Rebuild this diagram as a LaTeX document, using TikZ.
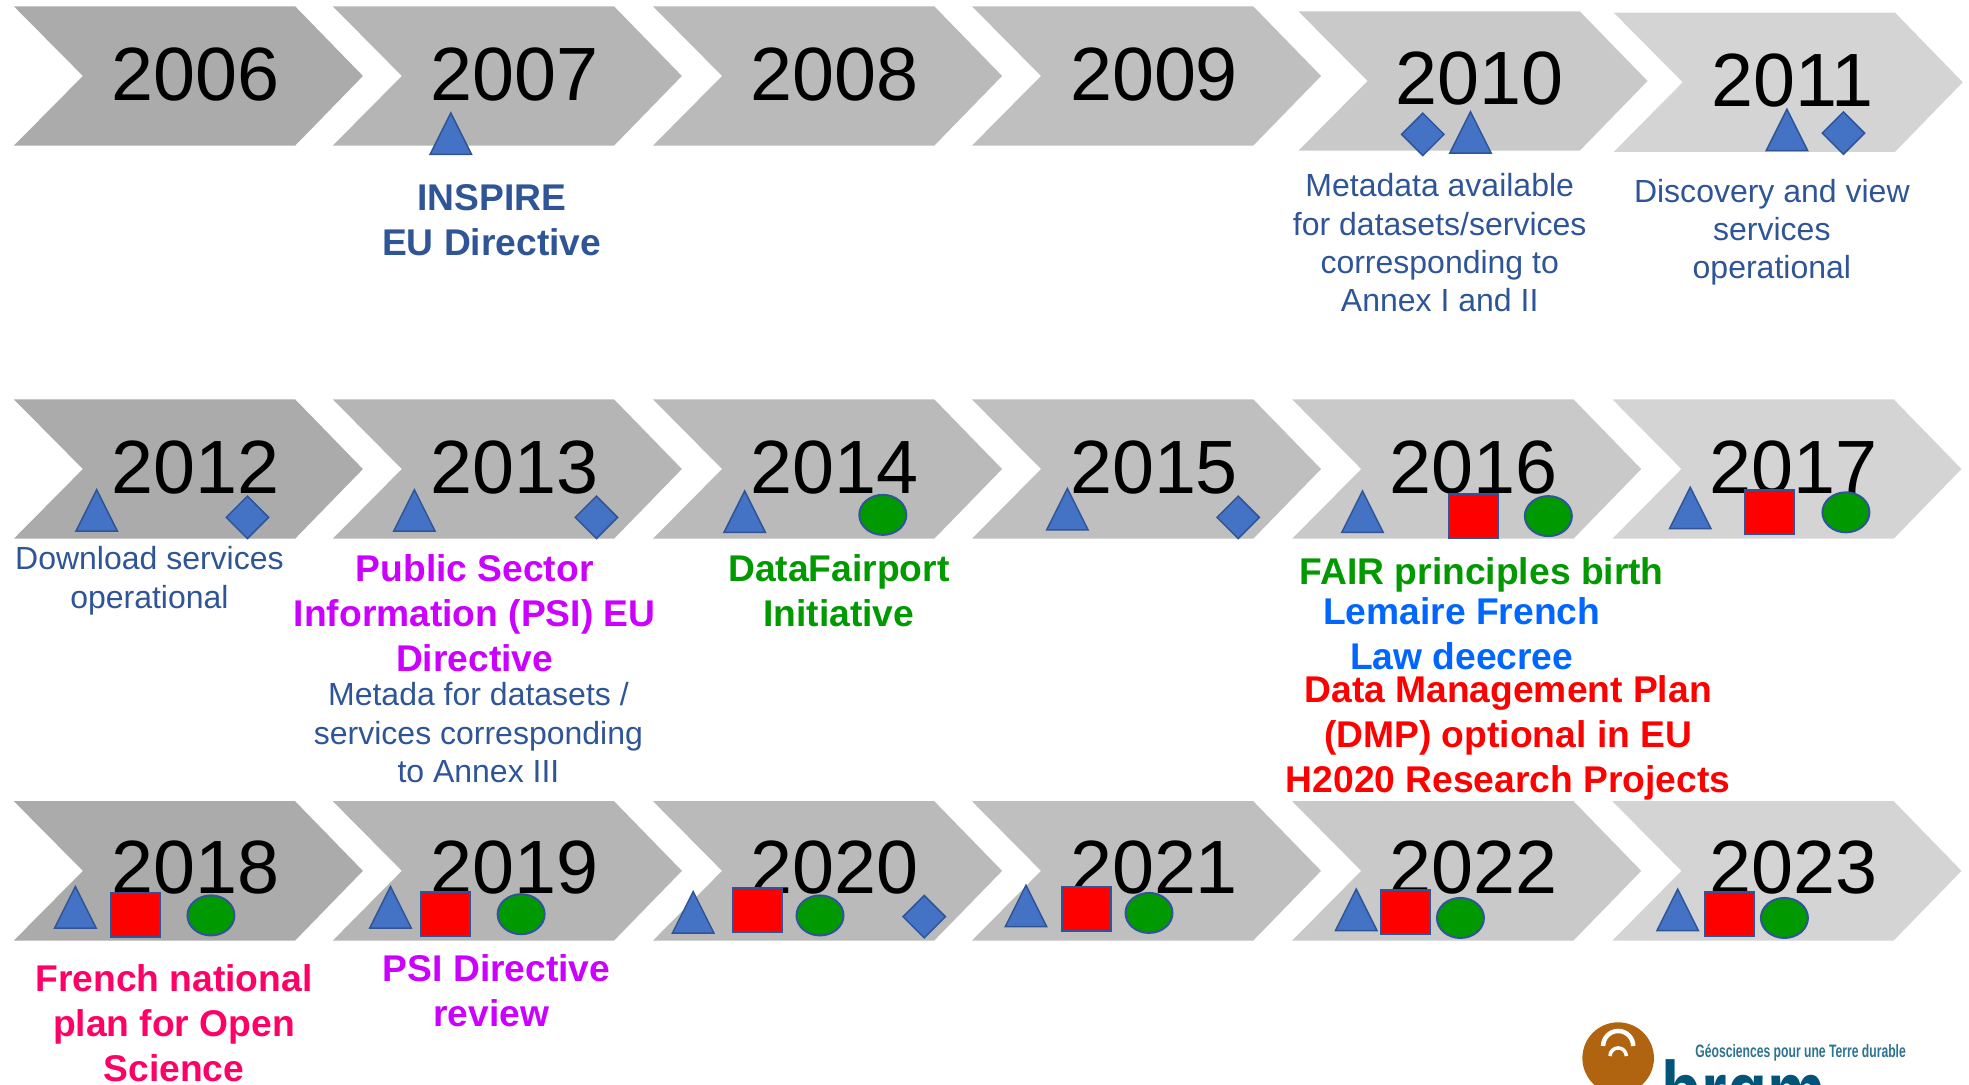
\documentclass[tikz,border=0pt]{standalone}
\usepackage{fontspec}
\setmainfont{Liberation Sans}
\usepackage{tikz}
\usetikzlibrary{shapes.geometric,positioning}

\definecolor{inspireblue}{HTML}{2F5597}
\definecolor{markerblue}{HTML}{4472C4}
\definecolor{fairgreen}{HTML}{009900}
\definecolor{lawblue}{HTML}{0066FF}
\definecolor{psipurple}{HTML}{CC00FF}
\definecolor{planpink}{HTML}{FF0066}
\definecolor{logobrown}{HTML}{B06410}
\definecolor{logoblue}{HTML}{005578}
\definecolor{logotext}{HTML}{2E7391}

\tikzset{
  year/.style={inner sep=0pt, font=\fontsize{75.5}{75.5}\selectfont},
  note/.style={inner sep=0pt, align=center, text=inspireblue, font=\fontsize{32}{38.3}\selectfont},
  headline/.style={inner sep=0pt, align=center, font=\bfseries\fontsize{37.2}{45}\selectfont},
  sq/.style={draw=inspireblue, line width=2pt, fill=red, inner sep=0pt, minimum width=49pt, minimum height=44pt},
  disc/.style={draw=inspireblue, line width=2pt, fill=fairgreen, inner sep=0pt, ellipse, minimum width=47pt, minimum height=40pt},
  lozenge/.style={draw=inspireblue, line width=1.5pt, fill=markerblue, inner sep=0pt, diamond, minimum width=43pt, minimum height=43pt},
  tri/.pic={\filldraw[draw=inspireblue, line width=1.5pt, fill=markerblue] (-16.5,33) -- (0,0) -- (16.5,33) -- cycle;}
}

\begin{document}
\begin{tikzpicture}[x=1.2557pt, y=-1.2557pt]
  \useasboundingbox (0,0) rectangle (1568,863.3);
  \clip (0,0) rectangle (1568,863.3);

  % chevrons and years: left end, top, tone, text x, text y
  \foreach \yr/\cx/\cy/\tone/\tx/\ty in {
    2006/11/5/33/155.5/59, 2007/265/5/29/410/59, 2008/520/5/27/664.5/59, 2009/774/5/25/919/59, 2010/1034/9/21/1178.5/62.5, 2011/1285/10/17/1427.5/64,
    2012/11/318/33/155.5/372, 2013/265/318/29/410/372, 2014/520/318/27/664.5/372, 2015/774/318/25/919/372, 2016/1029/318/21/1173.5/372, 2017/1284/318/17/1428.5/372,
    2018/11/638/33/155.5/691, 2019/265/638/29/410/691, 2020/520/638/27/664.5/691, 2021/774/638/25/919/691, 2022/1029/638/21/1173.5/691, 2023/1284/638/17/1428.5/691} {
    \fill[black!\tone] (\cx,\cy) -- ++(224,0) -- ++(54,55.5) -- ++(-54,55.5) -- ++(-224,0) -- ++(55,-55.5) -- cycle;
    \node[year] (y\yr) at (\tx,\ty) {\yr};
  }

  % triangles
  \foreach \tx/\ty/\nm in {359/90/a, 1171/89/b, 1423/87/c, 77/390/d, 330/390/e, 593/391/f, 850/389/g, 1085/391/h, 1346/388/i,
    60/706/j, 311/706/k, 552/710/l, 817/705/m, 1080/708/n, 1336/708/o}
    \pic (t\nm) at (\tx,\ty) {tri};

  % diamonds
  \foreach \tx/\ty/\nm in {1133/107/a, 1468/106/b, 197/412/c, 475/412/d, 986/412/e, 736/730/f}
    \node[lozenge] (d\nm) at (\tx,\ty) {};

  % squares
  \foreach \tx/\ty/\nm in {1173/411/a, 1409/408/b, 108/729/c, 355/728/d, 603/725/e, 865/724/f, 1119/726/g, 1377/728/h}
    \node[sq] (s\nm) at (\tx,\ty) {};

  % circles
  \foreach \tx/\ty/\nm in {703/410/a, 1233/411/b, 1470/408/c, 168/729/d, 415/728/e, 653/729/f, 915/727/g, 1163/731/h, 1421/731/i}
    \node[disc] (c\nm) at (\tx,\ty) {};

  % 1st row texts
  \node[headline, text=inspireblue] (inspire) at (391.5,175) {INSPIRE\\EU Directive};
  \node[note] (meta) at (1146.5,193.5) {Metadata available\\for datasets/services\\corresponding to\\Annex I and II};
  \node[note] (disco) at (1411,185) {Discovery and view\\services\\operational};

  % 2nd row texts
  \node[note] (down) at (119,462.5) {Download services\\operational};
  \node[headline, text=psipurple] (psi) at (378,488) {Public Sector\\Information (PSI) EU\\Directive};
  \node[note] (annex) at (381,583.5) {Metada for datasets /\\services corresponding\\to Annex III};
  \node[headline, text=fairgreen] (fairport) at (668,470) {DataFairport\\Initiative};
  \node[headline, text=fairgreen] (fair) at (1180,458) {FAIR principles birth};
  \node[headline, text=lawblue] (lemaire) at (1164,505) {Lemaire French\\Law deecree};
  \node[headline, text=red] (dmp) at (1201,587.5) {Data Management Plan\\(DMP) optional in EU\\H2020 Research Projects};

  % 3rd row texts
  \node[headline, text=planpink] (plan) at (138.5,815) {French national\\plan for Open\\Science};
  \node[headline, text=psipurple] (review) at (395.5,789) {PSI Directive\\review\hspace*{11pt}};

  % logo, cut by the lower edge
  \fill[logobrown] (1288.6,842.6) circle (28.5);
  \draw[white, line width=4.5pt] (1276.6,833) arc (180:360:12);
  \draw[white, line width=3.5pt] (1282.1,841) arc (180:360:6.5);
  \node[inner sep=0pt, anchor=west, text=logotext, xscale=0.675, font=\bfseries\fontsize{18}{18}\selectfont] (slogan) at (1350,838) {Géosciences pour une Terre durable};
  \node[inner sep=0pt, anchor=base west, text=logoblue, xscale=0.78, font=\bfseries\fontsize{84}{84}\selectfont] (brgm) at (1323,892) {brgm};
\end{tikzpicture}
\end{document}
